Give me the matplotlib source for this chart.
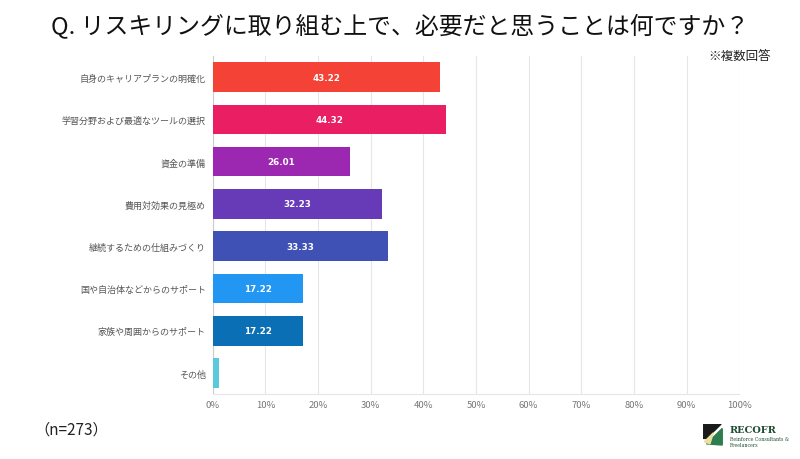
import matplotlib
matplotlib.use("Agg")
import matplotlib.pyplot as plt
from matplotlib.patches import Polygon
import numpy as np

plt.rcParams['font.family'] = ['Noto Sans CJK JP', 'DejaVu Sans']

# data
labels = ['自身のキャリアプランの明確化', '学習分野および最適なツールの選択', '資金の準備',
          '費用対効果の見極め', '継続するための仕組みづくり', '国や自治体などからのサポート',
          '家族や周囲からのサポート', 'その他']
values = [43.22, 44.32, 26.01, 32.23, 33.33, 17.22, 17.22, 1.1]
shown = [True, True, True, True, True, True, True, False]
colors = ['#F44336', '#E91E63', '#9C27B0', '#673AB7', '#3F51B5', '#2196F3', '#0B6FB5', '#5BC8DC']
xticks = [0, 10, 20, 30, 40, 50, 60, 70, 80, 90, 100]

fig = plt.figure(figsize=(8, 4.6), dpi=100)
ax = fig.add_axes([0.266, 0.141, 0.658, 0.735])

y = np.arange(len(labels))
bars = ax.barh(y, values, height=0.7, color=colors, zorder=3)
for b, v, s in zip(bars, values, shown):
    if s:
        ax.text(b.get_width() / 2, b.get_y() + b.get_height() / 2, '{:.2f}'.format(v),
                ha='center', va='center', color='white', fontsize=6.3,
                fontweight='bold', family='DejaVu Sans', zorder=4)

ax.set_xlim(0, 100)
ax.set_ylim(len(labels) - 0.5, -0.5)
ax.set_yticks(y)
ax.set_yticklabels(labels, fontsize=6.5, color='#555555')
ax.set_xticks(xticks)
ax.set_xticklabels(['{}%'.format(t) for t in xticks], fontsize=6.8, color='#777777')
ax.tick_params(axis='y', length=0, pad=5)
ax.tick_params(axis='x', length=0, pad=4)
ax.grid(axis='x', color='#e6e6e6', linewidth=0.8, zorder=0)
for sp in ['top', 'right']:
    ax.spines[sp].set_visible(False)
ax.spines['left'].set_color('#cccccc')
ax.spines['bottom'].set_color('#e6e6e6')

fig.text(0.5, 0.943, 'Q. リスキリングに取り組む上で、必要だと思うことは何ですか？',
         ha='center', va='center', fontsize=17.2, color='#111111')
fig.text(0.964, 0.878, '※複数回答', ha='right', va='center', fontsize=9, color='#222222')
fig.text(0.043, 0.065, '（n=273）', ha='left', va='center', fontsize=11, color='#222222')

# logo
lx = fig.add_axes([0.879, 0.028, 0.028, 0.048])
lx.set_xlim(0, 1)
lx.set_ylim(0, 1)
lx.axis('off')
lx.add_patch(Polygon([[0, 1], [0.8, 1], [0.15, 0.35], [0, 0.35]], closed=True, color='#1a1a1a'))
lx.add_patch(Polygon([[0.15, 0.1], [0.85, 0.8], [0.85, 0.05]], closed=True, color='#2e7d4f'))
lx.add_patch(Polygon([[0.05, 0.2], [0.45, 0.6], [0.3, 0.1]], closed=True, color='#e8dfa0'))
fig.text(0.912, 0.064, 'RECOFR', ha='left', va='center', fontsize=7, fontweight='bold',
         family='DejaVu Serif', color='#1f4d33')
fig.text(0.912, 0.038, 'Reinforce Consultants &\nFreelancers', ha='left', va='center',
         fontsize=3.3, family='DejaVu Serif', color='#1f4d33', linespacing=1.1)

fig.savefig('out.png', dpi=100, facecolor='white')
